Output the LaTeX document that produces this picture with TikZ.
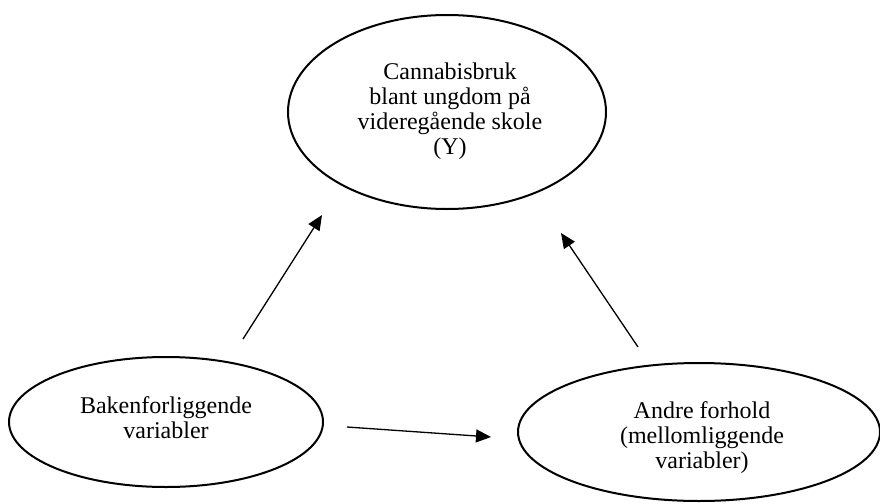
\documentclass[tikz,border=0pt]{standalone}
\usepackage{fontspec}
\setmainfont{Liberation Serif}
\usetikzlibrary{arrows.meta,shapes.geometric}
\begin{document}
\begin{tikzpicture}[x=1pt,y=-1pt,
  oval/.style={draw=black, line width=2pt, ellipse, inner sep=0pt},
  lbl/.style={align=center, font=\fontsize{24}{25}\selectfont, inner sep=0pt},
  conn/.style={draw=black, line width=1.3pt, -{Triangle[length=15pt,width=13pt]}}]
\useasboundingbox (0,0) rectangle (880,503);
\node[oval, minimum width=318pt, minimum height=194pt] (y) at (447,112) {};
\node[lbl] (yt) at (450,111) {Cannabisbruk\\blant ungdom på\\videregående skole\\(Y)};
\node[oval, minimum width=314pt, minimum height=130pt] (b) at (166,422) {};
\node[lbl] (bt) at (166,418) {Bakenforliggende\\variabler};
\node[oval, minimum width=362pt, minimum height=138pt] (a) at (699,432) {};
\node[lbl] (at) at (702,438) {Andre forhold\\(mellomliggende\\variabler)};
\coordinate (c1s) at (243,339);
\coordinate (c1e) at (322,215);
\coordinate (c2s) at (638,347);
\coordinate (c2e) at (561,233);
\coordinate (c3s) at (347,427);
\coordinate (c3e) at (491,437);
\draw[conn] (c1s) -- (c1e);
\draw[conn] (c2s) -- (c2e);
\draw[conn] (c3s) -- (c3e);
\end{tikzpicture}
\end{document}
